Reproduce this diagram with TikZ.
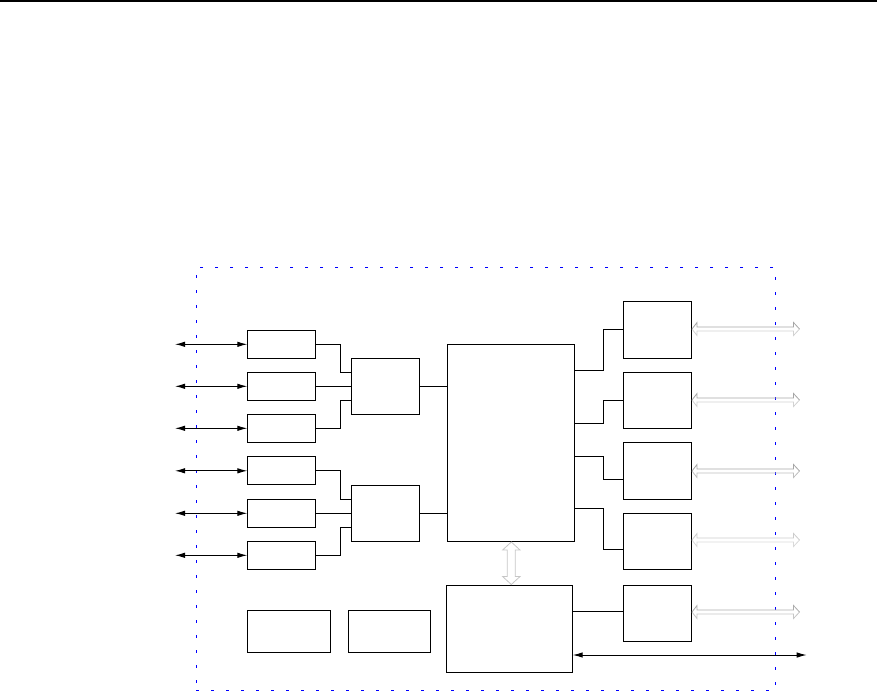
\documentclass[tikz,border=0pt]{standalone}
\usetikzlibrary{arrows.meta}
\begin{document}
\begin{tikzpicture}[x=1pt,y=-1pt,
  box/.style={draw=black, line width=1pt, inner sep=0pt, outer sep=0pt, fill=white},
  wire/.style={draw=black, line width=1pt},
  bidir/.style={draw=black, line width=1pt, {Latex[length=10pt,width=5.5pt]}-{Latex[length=10pt,width=5.5pt]}},
  frame/.style={draw=blue, line width=1pt, dash pattern=on 2.7pt off 12.3pt, inner sep=0pt, outer sep=0pt},
  hollowup/.style={draw=gray!70, line width=0.8pt, line join=miter},
  hollowlo/.style={draw=gray!35, line width=0.8pt, line join=miter}
]
\useasboundingbox (0,0) rectangle (877,691);
\fill[black] (0,0) rectangle (877,2.3);

% dotted frame
\node[frame, minimum width=579.5pt, minimum height=423pt] (frame) at (485.75,478.5) {};

% left small boxes
\foreach \n/\y in {L1/344.3, L2/386.3, L3/428.3, L4/470.8, L5/513.3, L6/555.3} {
  \node[box, minimum width=68pt, minimum height=28pt] (\n) at (281.3,\y) {};
  \coordinate (\n in) at (175,\y);
  \draw[bidir] (\n in) -- (\n.west);
}

% multiplexers
\node[box, minimum width=68pt, minimum height=56pt] (M1) at (385.3,386.3) {};
\node[box, minimum width=68pt, minimum height=56pt] (M2) at (385.3,513.3) {};

% central boxes
\node[box, minimum width=127.4pt, minimum height=197pt] (B) at (511,442.8) {};
\node[box, minimum width=126.4pt, minimum height=87pt] (C) at (509.5,628.8) {};

% bottom left boxes
\node[box, minimum width=83pt, minimum height=42pt] (A) at (288.8,631.3) {};
\node[box, minimum width=82pt, minimum height=42pt] (D) at (389.3,631.3) {};

% right boxes
\node[box, minimum width=68pt, minimum height=57pt] (R1) at (657.3,329.8) {};
\node[box, minimum width=68pt, minimum height=56pt] (R2) at (657.3,400.3) {};
\node[box, minimum width=68pt, minimum height=57pt] (R3) at (657.3,470.8) {};
\node[box, minimum width=68pt, minimum height=56pt] (R4) at (657.3,541.3) {};
\node[box, minimum width=68pt, minimum height=56pt] (R5) at (657.3,613.3) {};

% left boxes to multiplexers
\draw[wire] (L1.east) -- (340.3,344.3) |- ([yshift=14pt]M1.west);
\draw[wire] (L2.east) -- (M1.west);
\draw[wire] (L3.east) -- (340.3,428.3) |- ([yshift=-14pt]M1.west);
\draw[wire] (L4.east) -- (340.3,470.8) |- ([yshift=14pt]M2.west);
\draw[wire] (L5.east) -- (M2.west);
\draw[wire] (L6.east) -- (340.3,555.3) |- ([yshift=-14pt]M2.west);

% multiplexers to central box
\draw[wire] (M1.east) -- (M1.east -| B.west);
\draw[wire] (M2.east) -- (M2.east -| B.west);

% central box to right boxes
\draw[wire] ([yshift=72.5pt]B.east) -- (603.3,370.3) |- (R1.west);
\draw[wire] ([yshift=19.5pt]B.east) -- (603.3,423.3) |- (R2.west);
\draw[wire] ([yshift=-13.5pt]B.east) -- (603.3,456.3) |- ([yshift=-8.5pt]R3.west);
\draw[wire] ([yshift=-65.5pt]B.east) -- (603.3,508.3) |- ([yshift=-8pt]R4.west);
\draw[wire] ([yshift=17.5pt]C.east) -- ([yshift=2pt]R5.west);

% bottom long arrow
\coordinate (Cout) at (806.7,655);
\draw[bidir] ([yshift=-26.2pt]C.east) -- (Cout);

% hollow vertical arrow between B and C
\draw[draw=gray!45, line width=0.8pt, line join=miter]
  (511.3,542) -- (520,550) -- (515.3,550) -- (515.3,576.5) -- (520,576.5) -- (511.3,584.5)
  -- (502.6,576.5) -- (507.3,576.5) -- (507.3,550) -- (502.6,550) -- cycle;

% hollow horizontal arrows on the right
\foreach \y/\cu/\cl in {329/70/35, 400/70/35, 471/70/50, 540/40/30, 612/65/45} {
  \draw[draw=gray!\cu, line width=0.8pt, line join=miter]
    (692,\y) -- (697,\y-6.5) -- (697,\y-2) -- (793.5,\y-2) -- (793.5,\y-6.5) -- (799.5,\y);
  \draw[draw=gray!\cl, line width=0.8pt, line join=miter]
    (692,\y) -- (697,\y+6.5) -- (697,\y+2) -- (793.5,\y+2) -- (793.5,\y+6.5) -- (799.5,\y);
}
\end{tikzpicture}
\end{document}
